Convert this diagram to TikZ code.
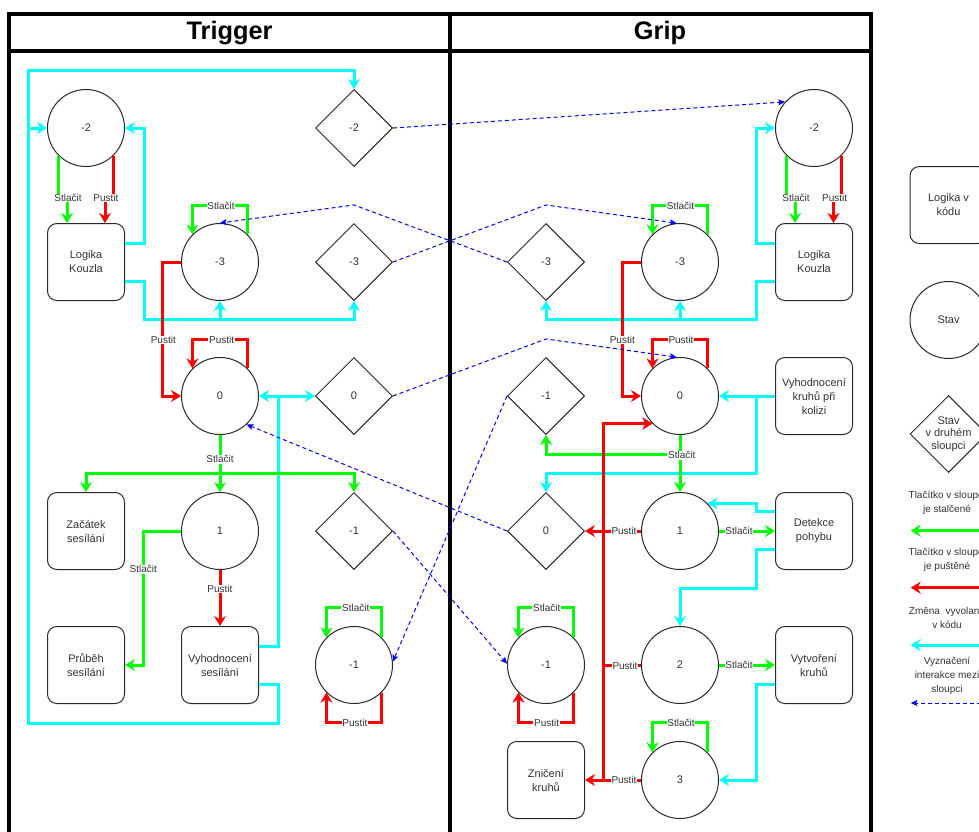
\documentclass[tikz,border=0pt]{standalone}
\usepackage{fontspec}
\setmainfont{Liberation Sans}
\usetikzlibrary{arrows.meta,shapes.geometric}
\definecolor{cgreen}{RGB}{0,255,0}
\definecolor{cred}{RGB}{255,0,0}
\definecolor{ccyan}{RGB}{0,255,255}
\definecolor{cblue}{RGB}{0,0,255}
\definecolor{txt}{RGB}{51,51,51}
\definecolor{shp}{RGB}{40,40,40}
\newcommand{\nf}{\fontsize{8.25}{10.5}\selectfont}
\begin{document}
\begin{tikzpicture}[x=0.75pt,y=-0.75pt,
  stav/.style={circle, draw=shp, fill=white, line width=0.75pt, minimum size=57.75pt, inner sep=0pt, font=\nf, text=txt},
  kos/.style={diamond, draw=shp, fill=white, line width=0.75pt, minimum width=57.75pt, minimum height=57.75pt, shape aspect=1, inner sep=0pt, font=\nf, text=txt},
  logic/.style={rectangle, rounded corners=7pt, draw=shp, fill=white, line width=0.75pt, minimum width=57.75pt, minimum height=57.75pt, inner sep=0pt, align=center, font=\nf, text=txt},
  frame/.style={draw=black, line width=3pt},
  title/.style={font=\fontsize{19}{22}\selectfont\bfseries, text=black},
  tip/.style={-{Stealth[length=7.5pt,width=9pt,inset=2.5pt]}},
  ge/.style={draw=cgreen, line width=2.25pt, tip},
  re/.style={draw=cred, line width=2.25pt, tip},
  cy/.style={draw=ccyan, line width=2.25pt, tip},
  dsh/.style={draw=cblue, line width=0.75pt, dash pattern=on 3pt off 2.25pt, -{Stealth[length=5pt,width=4.5pt,inset=1pt]}},
  lbl/.style={fill=white, inner sep=0.6pt, font=\fontsize{7.5}{9}\selectfont, text=txt},
  lgt/.style={align=center, font=\fontsize{7.5}{10.5}\selectfont, text=txt},
  lgd/.style={align=center, font=\fontsize{8.25}{9.5}\selectfont, text=txt}
]
\useasboundingbox (0,0) rectangle (979,832);
\clip (0,0) rectangle (979,832);

% frames
\draw[frame] (9.3,14) rectangle (450,880);
\draw[frame] (450,14) rectangle (871,880);
\draw[frame] (9.3,51.3) -- (871,51.3);
\node[title] (ttl) at (229.5,33) {Trigger};
\node[title] (gtl) at (660,33) {Grip};

% Trigger nodes
\node[stav] (tcm2) at (86,128) {-2};
\node[kos] (tdm2) at (354,128) {-2};
\node[logic] (tlog) at (86,262) {Logika\\Kouzla};
\node[stav] (tcm3) at (220,262) {-3};
\node[kos] (tdm3) at (354,262) {-3};
\node[stav] (tc0) at (220,396) {0};
\node[kos] (td0) at (354,396) {0};
\node[logic] (tzac) at (86,531) {Začátek\\sesílání};
\node[stav] (tc1) at (220,531) {1};
\node[kos] (tdm1) at (354,531) {-1};
\node[logic] (tprub) at (86,665) {Průběh\\sesílání};
\node[logic] (tvyh) at (220,665) {Vyhodnocení\\sesílání};
\node[stav] (tcm1) at (354,665) {-1};

% Grip nodes
\node[stav] (gcm2) at (814,128) {-2};
\node[logic] (glog) at (814,262) {Logika\\Kouzla};
\node[kos] (gdm3) at (546,262) {-3};
\node[stav] (gcm3) at (680,262) {-3};
\node[stav] (gc0) at (680,396) {0};
\node[kos] (gdm1) at (546,396) {-1};
\node[logic] (gvk) at (814,396) {Vyhodnocení\\kruhů při\\kolizi};
\node[kos] (gd0) at (546,531) {0};
\node[stav] (gc1) at (680,531) {1};
\node[logic] (gdet) at (814,531) {Detekce\\pohybu};
\node[stav] (gcm1) at (546,665) {-1};
\node[stav] (gc2) at (680,665) {2};
\node[logic] (gvyt) at (814,665) {Vytvoření\\kruhů};
\node[logic] (gzn) at (546,780) {Zničení\\kruhů};
\node[stav] (gc3) at (680,780) {3};

% Legend nodes
\node[logic] (lbox) at (948.5,205) {Logika v\\kódu};
\node[stav] (lcirc) at (948.5,320) {Stav};
\node[kos, label={[lgd]center:Stav\\v druhém\\sloupci}] (ldiam) at (948.5,434) {};

% Trigger edges
\draw[ge] (tcm2.225) -- (tcm2.225 |- 0,198) -- (67,198) -- (tlog.north -| 67,0);
\draw[re] (tcm2.315) -- (tcm2.315 |- 0,198) -- (105,198) -- (tlog.north -| 105,0);
\draw[cy] (tlog.east |- 0,243.3) -- (144,243.3) -- (144,128) -- (tcm2.east);
\draw[cy] (tlog.east |- 0,281.7) -- (144,281.7) -- (144,319.3) -| (tdm3.south);
\draw[cy] (tlog.east |- 0,281.7) -- (144,281.7) -- (144,319.3) -| (tcm3.south);
\draw[cy] (tvyh.east |- 0,684) -- (278,684) -- (278,723) -- (28,723) -- (28,70.7) -| (tdm2.north);
\draw[cy] (tvyh.east |- 0,684) -- (278,684) -- (278,723) -- (28,723) -- (28,128) -- (tcm2.west);
\draw[cy] (tvyh.east |- 0,646) -- (278,646) -- (278,396) -- (tc0.east);
\draw[cy] (tvyh.east |- 0,646) -- (278,646) -- (278,396) -- (td0.west);
\draw[ge] (tcm3.45) -- (tcm3.45 |- 0,205) -- (tcm3.135 |- 0,205) -- (tcm3.135);
\draw[re] (tcm3.west) -| (162.3,396) -- (tc0.west);
\draw[re] (tc0.45) -- (tc0.45 |- 0,339) -- (tc0.135 |- 0,339) -- (tc0.135);
\draw[ge] (tc0.south) -- (220,473.3) -| (tzac.north);
\draw[ge] (tc0.south) -- (tc1.north);
\draw[ge] (tc0.south) -- (220,473.3) -| (tdm1.north);
\draw[ge] (tc1.west) -| (143.3,665) -- (tprub.east);
\draw[re] (tc1.south) -- (tvyh.north);
\draw[ge] (tcm1.45) -- (tcm1.45 |- 0,607.7) -- (tcm1.135 |- 0,607.7) -- (tcm1.135);
\draw[re] (tcm1.315) -- (tcm1.315 |- 0,722.7) -- (tcm1.225 |- 0,722.7) -- (tcm1.225);

% Grip edges
\draw[ge] (gcm2.225) -- (gcm2.225 |- 0,198) -- (795,198) -- (glog.north -| 795,0);
\draw[re] (gcm2.315) -- (gcm2.315 |- 0,198) -- (833.5,198) -- (glog.north -| 833.5,0);
\draw[cy] (glog.west |- 0,243.3) -- (756.3,243.3) -- (756.3,128) -- (gcm2.west);
\draw[cy] (glog.west |- 0,281.7) -- (756.3,281.7) -- (756.3,319.3) -| (gdm3.south);
\draw[cy] (glog.west |- 0,281.7) -- (756.3,281.7) -- (756.3,319.3) -| (gcm3.south);
\draw[ge] (gcm3.45) -- (gcm3.45 |- 0,205) -- (gcm3.135 |- 0,205) -- (gcm3.135);
\draw[re] (gcm3.west) -| (622.3,396) -- (gc0.west);
\draw[re] (gc0.45) -- (gc0.45 |- 0,339) -- (gc0.135 |- 0,339) -- (gc0.135);
\draw[cy] (gvk.west) -- (gc0.east);
\draw[cy] (gvk.west) -- (756.7,396) -- (756.7,473.3) -| (gd0.north);
\draw[ge] (gc0.south) -- (gc1.north);
\draw[ge] (gc0.south) -- (680,454.3) -| (gdm1.south);
\draw[re] (gc2.west) -| (gc0.225 -| 603.3,0) -- (gc0.225);
\draw[re] (gc3.west) -| (gc0.225 -| 603.3,0) -- (gc0.225);
\draw[re] (gc3.west) -- (gzn.east);
\draw[re] (gc1.west) -- (gd0.east);
\draw[ge] (gc1.east) -- (gdet.west);
\draw[cy] (gdet.west |- 0,511.7) -| (gc1.45 -| 756.7,0) -- (gc1.45);
\draw[cy] (gdet.west |- 0,549.3) -| (756.7,588.3) -| (gc2.north);
\draw[ge] (gc2.east) -- (gvyt.west);
\draw[cy] (gvyt.west |- 0,684) -| (756.7,780) -- (gc3.east);
\draw[ge] (gc3.45) -- (gc3.45 |- 0,722.7) -- (gc3.135 |- 0,722.7) -- (gc3.135);
\draw[ge] (gcm1.45) -- (gcm1.45 |- 0,607.7) -- (gcm1.135 |- 0,607.7) -- (gcm1.135);
\draw[re] (gcm1.315) -- (gcm1.315 |- 0,722.7) -- (gcm1.225 |- 0,722.7) -- (gcm1.225);

% interaction between columns
\draw[dsh] (tdm2.east) -- (gcm2.138);
\draw[dsh] (tdm3.east) -- (546,205) -- (gcm3.95);
\draw[dsh] (gdm3.west) -- (354,205) -- (tcm3.north);
\draw[dsh] (td0.east) -- (546,339) -- (gc0.95);
\draw[dsh] (gd0.west) -- (tc0.313);
\draw[dsh] (gdm1.west) -- (tcm1.5);
\draw[dsh] (tdm1.east) -- (gcm1.178);

% edge labels
\node[lbl] at (68,198) {Stlačit};
\node[lbl] at (106,198) {Pustit};
\node[lbl] at (221,205.5) {Stlačit};
\node[lbl] at (163.3,340) {Pustit};
\node[lbl] at (221.7,339.5) {Pustit};
\node[lbl] at (220,459.3) {Stlačit};
\node[lbl] at (143.3,569.3) {Stlačit};
\node[lbl] at (220,589) {Pustit};
\node[lbl] at (355.7,608) {Stlačit};
\node[lbl] at (355,723) {Pustit};
\node[lbl] at (796,198) {Stlačit};
\node[lbl] at (834.6,198) {Pustit};
\node[lbl] at (680.6,205.5) {Stlačit};
\node[lbl] at (622.3,340) {Pustit};
\node[lbl] at (681,339.5) {Pustit};
\node[lbl] at (681.7,455.3) {Stlačit};
\node[lbl] at (625,665.5) {Pustit};
\node[lbl] at (624,780) {Pustit};
\node[lbl] at (624,531) {Pustit};
\node[lbl] at (739,531) {Stlačit};
\node[lbl] at (739,665) {Stlačit};
\node[lbl] at (681,723) {Stlačit};
\node[lbl] at (546.7,608) {Stlačit};
\node[lbl] at (546.7,723) {Pustit};

% legend
\node[lgt] (lt1) at (947,503) {Tlačítko v sloupci\\je stalčené};
\coordinate (lg1a) at (995,530.7);
\coordinate (lg1b) at (910.7,530.7);
\draw[ge] (lg1a) -- (lg1b);
\node[lgt] (lt2) at (947,560) {Tlačítko v sloupci\\je puštěné};
\coordinate (lg2a) at (995,587.7);
\coordinate (lg2b) at (910.7,587.7);
\draw[re] (lg2a) -- (lg2b);
\node[lgt] (lt3) at (947,618) {Změna\ \ vyvolaná\\v kódu};
\coordinate (lg3a) at (995,645);
\coordinate (lg3b) at (910.7,645);
\draw[cy] (lg3a) -- (lg3b);
\node[lgt] (lt4) at (947,675.5) {Vyznačení\\interakce mezi\\sloupci};
\coordinate (lg4a) at (995,703);
\coordinate (lg4b) at (910.7,703);
\draw[dsh] (lg4a) -- (lg4b);
\end{tikzpicture}
\end{document}
